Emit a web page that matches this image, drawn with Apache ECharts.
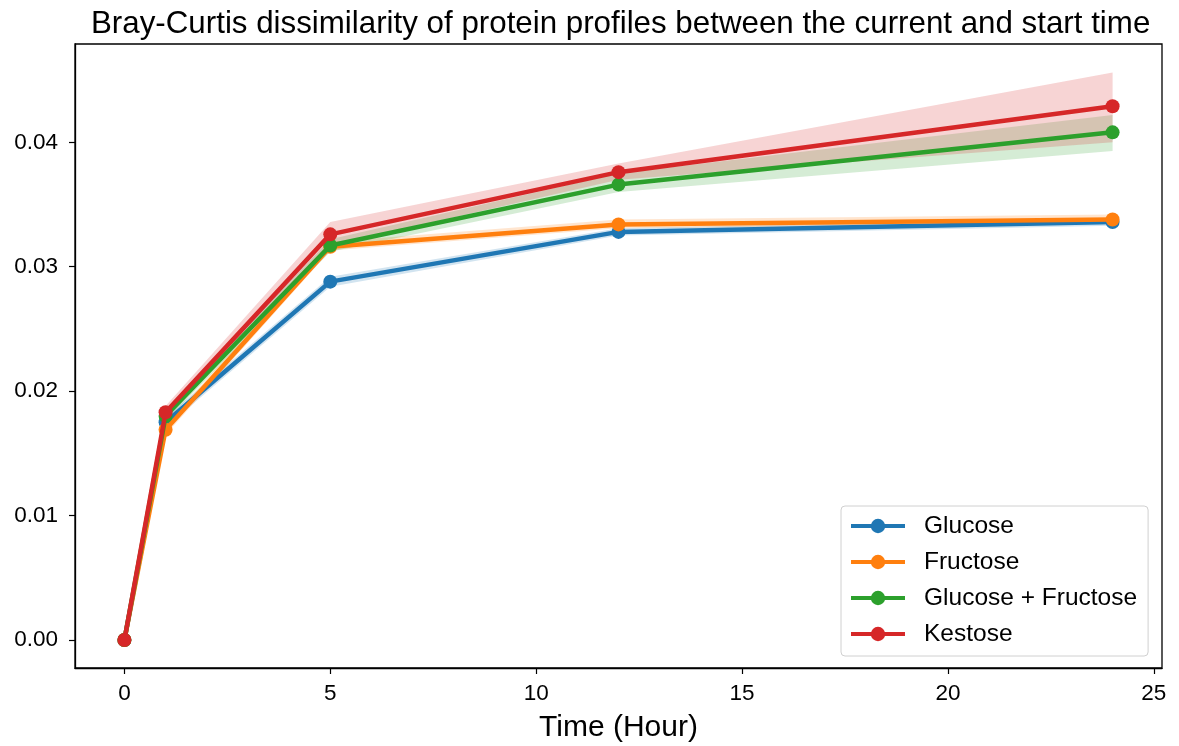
<!DOCTYPE html>
<html><head><meta charset="utf-8">
<script src="https://cdn.jsdelivr.net/npm/echarts@6/dist/echarts.min.js"></script>
<style>html,body{margin:0;padding:0;background:#fff}#c{width:1179px;height:746px}</style>
</head><body><div id="c"></div>
<script>
const hours = [0, 1, 5, 12, 24];
const seriesNames = ['Glucose', 'Fructose', 'Glucose + Fructose', 'Kestose'];
const glucoseMean = [0, 0.0175, 0.0288, 0.0328, 0.0336];
const glucoseLow  = [0, 0.0171, 0.0284, 0.0325, 0.0333];
const glucoseHigh = [0, 0.0179, 0.0292, 0.0331, 0.0339];
const fructoseMean = [0, 0.0169, 0.0316, 0.0334, 0.0338];
const fructoseLow  = [0, 0.0165, 0.0313, 0.0331, 0.0335];
const fructoseHigh = [0, 0.0173, 0.0320, 0.0338, 0.0342];
const gfMean = [0, 0.0180, 0.0317, 0.0366, 0.0408];
const gfLow  = [0, 0.0176, 0.0312, 0.0360, 0.0393];
const gfHigh = [0, 0.0184, 0.0322, 0.0375, 0.0422];
const kestoseMean = [0, 0.0183, 0.0326, 0.0376, 0.0429];
const kestoseLow  = [0, 0.0179, 0.0317, 0.0370, 0.0400];
const kestoseHigh = [0, 0.0188, 0.0336, 0.0383, 0.0456];
const xTicks = [0, 5, 10, 15, 20, 25];
const yTicks = [0, 0.01, 0.02, 0.03, 0.04];
const colors = ['#1f77b4', '#ff7f0e', '#2ca02c', '#d62728'];

const means = [glucoseMean, fructoseMean, gfMean, kestoseMean];
const lows = [glucoseLow, fructoseLow, gfLow, kestoseLow];
const highs = [glucoseHigh, fructoseHigh, gfHigh, kestoseHigh];
const FONT = '"Liberation Sans", Arial, sans-serif';

const series = [];
seriesNames.forEach((n, i) => {
  const bandData = hours.map((h, k) => [h, lows[i][k], highs[i][k]]);
  series.push({
    name: 'band_' + i, type: 'custom', silent: true, z: 1,
    data: bandData,
    encode: { x: 0, y: [1, 2] },
    renderItem: function (params, api) {
      if (params.dataIndex !== 0) return null;
      const upper = bandData.map(d => api.coord([d[0], d[2]]));
      const lower = bandData.slice().reverse().map(d => api.coord([d[0], d[1]]));
      return {
        type: 'polygon',
        shape: { points: upper.concat(lower) },
        style: { fill: colors[i], opacity: 0.2 }
      };
    }
  });
});
seriesNames.forEach((n, i) => {
  series.push({
    name: n, type: 'line', data: hours.map((h, k) => [h, means[i][k]]),
    symbol: 'circle', symbolSize: 14, color: colors[i],
    lineStyle: { width: 4.5, color: colors[i] },
    itemStyle: { color: colors[i] }, z: 3 + i
  });
});

const chart = echarts.init(document.getElementById('c'), null, { renderer: 'canvas' });
chart.setOption({
  animation: false,
  backgroundColor: '#fff',
  title: {
    text: 'Bray-Curtis dissimilarity of protein profiles between the current and start time',
    left: 86, top: 4,
    textStyle: { fontFamily: FONT, fontSize: 31.3, fontWeight: 'normal', color: '#000' }
  },
  grid: { left: 75, right: 17, top: 44, bottom: 78, containLabel: false, outerBoundsMode: 'none' },
  legend: {
    data: seriesNames, orient: 'vertical', left: 841, top: 506,
    itemWidth: 54, itemHeight: 18, itemGap: 10,
    lineStyle: { width: 4 },
    padding: [7, 11, 9, 8],
    borderColor: '#d0d0d0', borderWidth: 1, borderRadius: 4,
    backgroundColor: 'rgba(255,255,255,0.8)',
    textStyle: { fontFamily: FONT, fontSize: 24.5, color: '#000', lineHeight: 26, padding: [0, 0, 0, 14] }
  },
  xAxis: {
    type: 'value', min: -1.2, max: 25.2,
    name: 'Time (Hour)', nameLocation: 'middle', nameGap: 45,
    nameTextStyle: { fontFamily: FONT, fontSize: 30, color: '#000' },
    axisLine: { onZero: false, lineStyle: { color: '#000', width: 1.3 } },
    axisTick: { show: true, customValues: xTicks, length: 6, lineStyle: { color: '#000', width: 1.2 } },
    axisLabel: { customValues: xTicks, fontFamily: FONT, fontSize: 22.5, color: '#000', margin: 14 },
    splitLine: { show: false }
  },
  yAxis: {
    type: 'value', min: -0.00225, max: 0.0479,
    axisLine: { show: true, onZero: false, lineStyle: { color: '#000', width: 1.3 } },
    axisTick: { show: true, customValues: yTicks, length: 6, lineStyle: { color: '#000', width: 1.2 } },
    axisLabel: { customValues: yTicks, fontFamily: FONT, fontSize: 22.5, color: '#000', margin: 17,
      formatter: v => v.toFixed(2) },
    splitLine: { show: false }
  },
  series: series,
  graphic: [{
    type: 'rect', silent: true, z: 0,
    shape: { x: 75, y: 44, width: 1179 - 17 - 75, height: 746 - 78 - 44 },
    style: { fill: 'none', stroke: '#000', lineWidth: 1.3 }
  }]
});
</script></body></html>
